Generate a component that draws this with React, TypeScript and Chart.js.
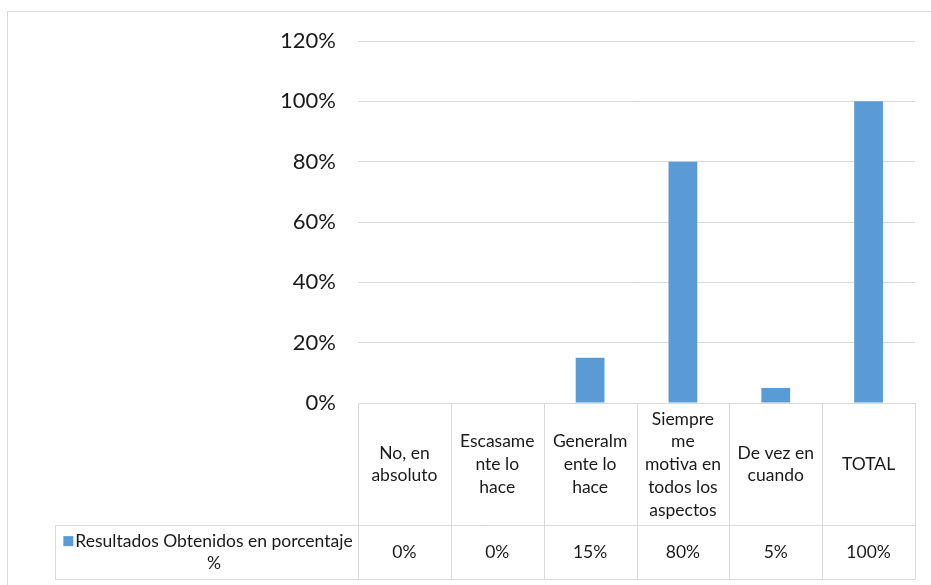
import { useEffect, useRef } from "react";
import { Chart, registerables } from "chart.js";

Chart.register(...registerables);

// ---- data ----
const categoryLines: string[][] = [
  ["No, en", "absoluto"],
  ["Escasame", "nte lo", "hace"],
  ["Generalm", "ente lo", "hace"],
  ["Siempre", "me", "motiva en", "todos los", "aspectos"],
  ["De vez en", "cuando"],
  ["TOTAL"],
];
const categories = categoryLines.map((l) => l.join(" "));
const values = [0, 0, 0.15, 0.8, 0.05, 1.0];
const seriesLines = ["Resultados Obtenidos en porcentaje", "%"];
const yMin = 0;
const yMax = 1.2;
const yStep = 0.2;

const BAR_COLOR = "#5B9BD5";
const GRID = "#d9d9d9";
const TEXT = "#1a1a1a";
const FONT = "Lato";

const pct = (v: number) => Math.round(v * 100) + "%";

const tablePlugin = {
  id: "dataTable",
  beforeDraw(chart: any) {
    const ctx = chart.ctx;
    ctx.save();
    ctx.fillStyle = "#ffffff";
    ctx.fillRect(0, 0, chart.width, chart.height);
    ctx.strokeStyle = GRID;
    ctx.lineWidth = 1;
    ctx.strokeRect(7.5, 11.5, chart.width + 20, chart.height + 20);
    ctx.restore();
  },
  afterDraw(chart: any) {
    const { ctx, chartArea } = chart;
    const xs = chart.scales.x;
    const n = categories.length;
    const colW = (chartArea.right - chartArea.left) / n;
    const top = Math.round(chartArea.bottom) + 0.5;
    const headerBottom = top + 122;
    const tableBottom = top + 176;
    const legendLeft = 55.5;
    const left = Math.round(chartArea.left) + 0.5;
    const right = Math.round(chartArea.right) + 0.5;

    ctx.save();
    ctx.strokeStyle = GRID;
    ctx.lineWidth = 1;
    ctx.beginPath();
    ctx.moveTo(left, top);
    ctx.lineTo(right, top);
    ctx.moveTo(legendLeft, headerBottom);
    ctx.lineTo(right, headerBottom);
    ctx.moveTo(legendLeft, tableBottom);
    ctx.lineTo(right, tableBottom);
    ctx.moveTo(legendLeft, headerBottom);
    ctx.lineTo(legendLeft, tableBottom);
    for (let i = 0; i <= n; i++) {
      const x = Math.round(chartArea.left + i * colW) + 0.5;
      ctx.moveTo(x, top);
      ctx.lineTo(x, tableBottom);
    }
    ctx.stroke();

    ctx.fillStyle = TEXT;
    ctx.font = `17.5px ${FONT}`;
    ctx.textAlign = "center";
    ctx.textBaseline = "middle";
    const lh = 22.7;
    const headerMid = (top + headerBottom) / 2;
    const rowMid = (headerBottom + tableBottom) / 2;
    for (let i = 0; i < n; i++) {
      const cx = xs.getPixelForValue(i);
      const lines = categoryLines[i];
      const y0 = headerMid - ((lines.length - 1) * lh) / 2;
      lines.forEach((t, k) => ctx.fillText(t, cx, y0 + k * lh));
      ctx.fillText(pct(values[i]), cx, rowMid);
    }

    // legend cell
    const cellCenter = (legendLeft + left) / 2 + 7;
    const ly0 = rowMid - ((seriesLines.length - 1) * lh) / 2;
    seriesLines.forEach((t, k) => ctx.fillText(t, cellCenter, ly0 + k * lh));
    const w0 = ctx.measureText(seriesLines[0]).width;
    ctx.fillStyle = BAR_COLOR;
    ctx.fillRect(cellCenter - w0 / 2 - 12, ly0 - 5, 10, 10);
    ctx.restore();
  },
};

export default function App() {
  const ref = useRef<HTMLCanvasElement | null>(null);
  useEffect(() => {
    if (!ref.current) return;
    const chart = new Chart(ref.current, {
      type: "bar",
      data: {
        labels: categories,
        datasets: [
          {
            label: seriesLines.join(" "),
            data: values,
            backgroundColor: BAR_COLOR,
            barPercentage: 0.31,
            categoryPercentage: 1,
          },
        ],
      },
      options: {
        responsive: false,
        animation: false,
        devicePixelRatio: 1,
        layout: { padding: { top: 41, right: 16, bottom: 182, left: 0 } },
        plugins: { legend: { display: false }, tooltip: { enabled: false } },
        scales: {
          x: { display: false },
          y: {
            min: yMin,
            max: yMax,
            border: { display: false },
            grid: { color: GRID, drawTicks: false },
            ticks: {
              stepSize: yStep,
              padding: 22,
              color: TEXT,
              font: { family: FONT, size: 22 },
              callback: (v: any) => pct(Number(v)),
            },
            afterFit: (s: any) => {
              s.width = 358;
            },
          },
        },
      },
      plugins: [tablePlugin],
    });
    return () => chart.destroy();
  }, []);
  return (
    <div style={{ position: "fixed", left: 0, top: 0, width: 931, height: 585, background: "#fff" }}>
      <canvas ref={ref} width={931} height={585} style={{ display: "block" }} />
    </div>
  );
}
